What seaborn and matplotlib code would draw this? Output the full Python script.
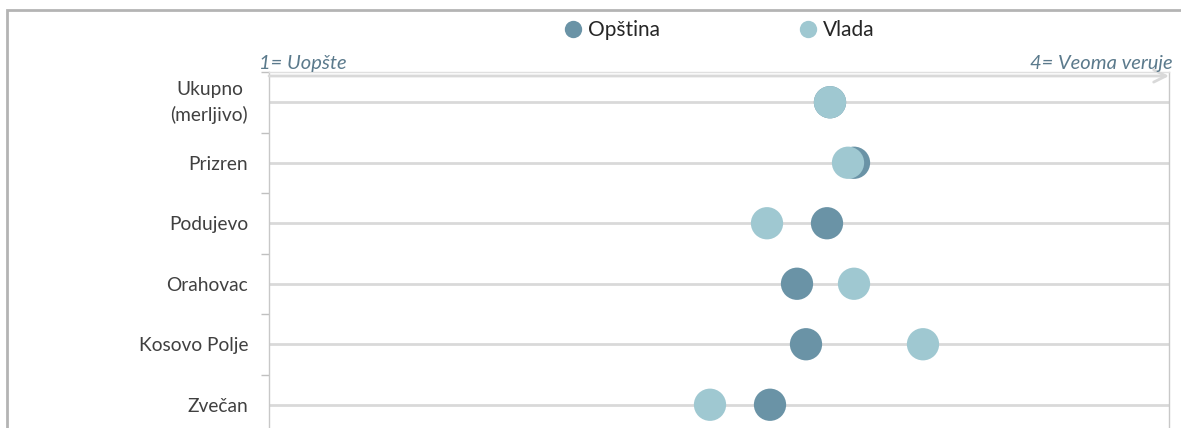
import pandas as pd
import matplotlib.pyplot as plt
import seaborn as sns
from matplotlib.lines import Line2D
from matplotlib.patches import Rectangle
from matplotlib.transforms import ScaledTranslation

# Podaci očitani sa grafikona (skala 1-4)
categories = ['Ukupno\n(merljivo)', 'Prizren', 'Podujevo', 'Orahovac', 'Kosovo Polje', 'Zvečan']
opstina = [2.87, 2.95, 2.86, 2.76, 2.79, 2.67]
vlada = [2.87, 2.93, 2.66, 2.95, 3.18, 2.47]
series = ['Opština', 'Vlada']
colors = ['#6a93a6', '#9fc8d1']

df = pd.DataFrame({
    'kategorija': categories * 2,
    'vrednost': opstina + vlada,
    'serija': [series[0]] * len(opstina) + [series[1]] * len(vlada),
})

sns.set_style('white')
plt.rcParams['font.family'] = ['Lato', 'DejaVu Sans']

W, H = 1181, 428
fig = plt.figure(figsize=(W / 100, H / 100), dpi=100)
ax = fig.add_axes([269 / W, 1 - 435 / H, 900 / W, (435 - 72) / H])

sns.scatterplot(data=df, x='vrednost', y='kategorija', hue='serija',
                palette=colors, s=540, edgecolor='none', linewidth=0,
                legend=False, zorder=3, ax=ax)

ax.set_xlim(1, 4)
ax.set_ylim(len(categories) - 0.5, -0.5)
ax.set_xlabel('')
ax.set_ylabel('')
ax.set_xticks([])

# horizontalne linije
ax.grid(axis='y', color='#d9d9d9', linewidth=2)
ax.grid(axis='x', visible=False)
ax.set_axisbelow(True)

# oznake kategorija i podeoci između njih
ax.set_yticks(range(len(categories)))
ax.set_yticklabels(categories, fontsize=13.8, color='#404040')
for lbl in ax.get_yticklabels():
    if '\n' in lbl.get_text():
        lbl.set_multialignment('center')
        lbl.set_linespacing(1.55)
        lbl.set_verticalalignment('center')
        lbl.set_transform(lbl.get_transform() + ScaledTranslation(0, -0.025, fig.dpi_scale_trans))
ax.set_yticks([i - 0.5 for i in range(len(categories) + 1)], minor=True)
ax.tick_params(axis='y', which='major', length=0, pad=15)
ax.tick_params(axis='y', which='minor', length=6, width=1, color='#c0c0c0', direction='out', left=True)

ax.spines['bottom'].set_visible(False)
ax.spines['left'].set_color('#c8c8c8')
ax.spines['right'].set_color('#c8c8c8')
ax.spines['top'].set_color('#e0e0e0')
for side in ['left', 'right', 'top']:
    ax.spines[side].set_linewidth(1)

# strelica skale
ax.annotate('', xy=(4, 0.989), xytext=(1, 0.989),
            xycoords=('data', 'axes fraction'), textcoords=('data', 'axes fraction'),
            arrowprops=dict(arrowstyle='->', color='#d9d9d9', lw=2, mutation_scale=22,
                            shrinkA=0, shrinkB=0), annotation_clip=False)

fig.text(259 / W, 1 - 63 / H, '1= Uopšte', fontsize=14.5, style='italic',
         color='#5b7a8c', ha='left', va='center')
fig.text(1173 / W, 1 - 63 / H, '4= Veoma veruje', fontsize=14.5, style='italic',
         color='#5b7a8c', ha='right', va='center')

# legenda
anchors = [564, 799]
for name, col, x0 in zip(series, colors, anchors):
    h = Line2D([], [], marker='o', linestyle='', markersize=12.5,
               markerfacecolor=col, markeredgecolor='none')
    fig.legend(handles=[h], labels=[name], loc='center left',
               bbox_to_anchor=(x0 / W, 1 - 30 / H), frameon=False,
               fontsize=15, handlelength=0.9, handletextpad=0.25,
               borderpad=0, borderaxespad=0, labelcolor='#262626')

# okvir grafikona
fig.add_artist(Rectangle((7 / W, -0.1), 1.2, (H - 10) / H + 0.1,
                         transform=fig.transFigure, fill=False,
                         edgecolor='#b4b4b4', linewidth=2))

plt.savefig('out.png', dpi=100)
plt.close()
